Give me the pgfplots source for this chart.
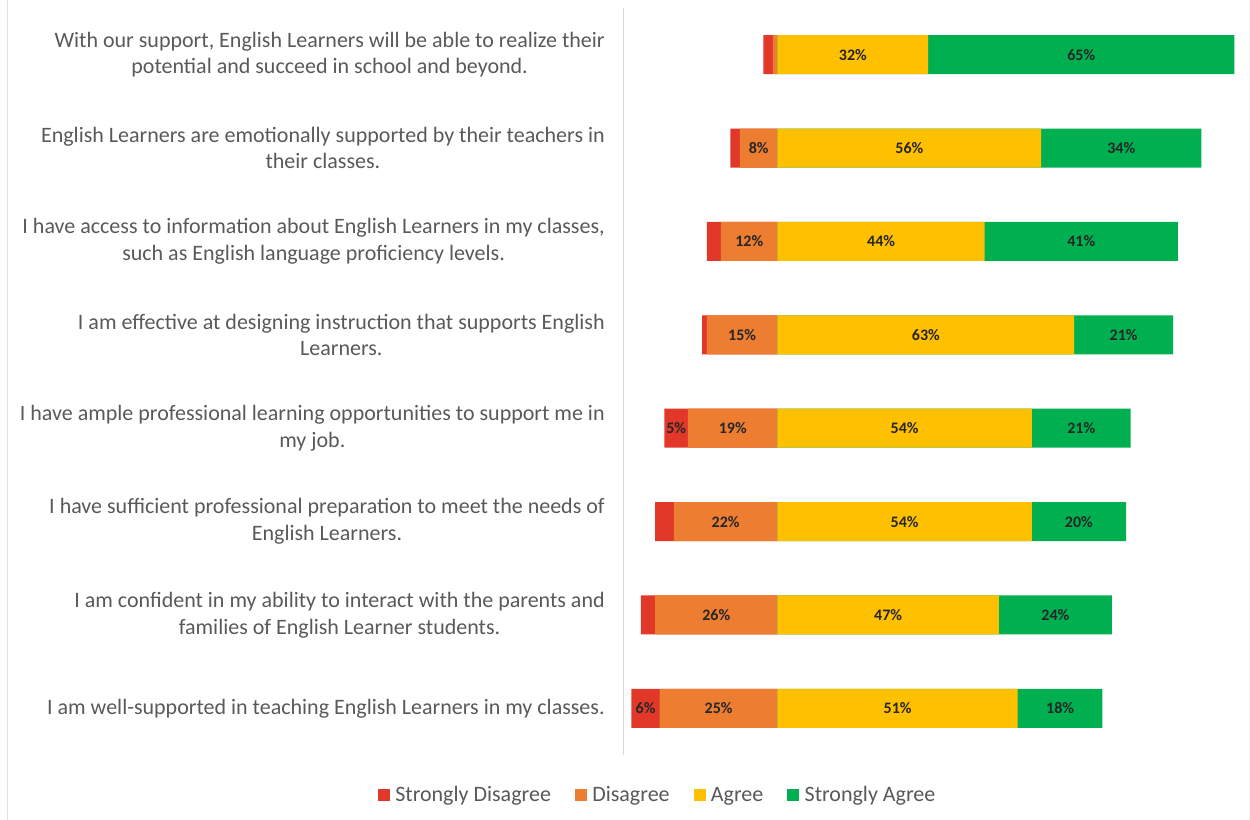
\documentclass[border=0pt]{standalone}
\usepackage{fontspec}
\setmainfont{Carlito}
\usepackage{pgfplots}
\usepackage{pgfplotstable}
\pgfplotsset{compat=1.18}

\definecolor{sdred}{HTML}{E2382A}
\definecolor{dorange}{HTML}{ED7D31}
\definecolor{ayellow}{HTML}{FFC000}
\definecolor{sagreen}{HTML}{00B050}
\definecolor{labelgray}{HTML}{595959}
\definecolor{valtext}{HTML}{262626}

% survey results, percent
\pgfplotstableread{
idx SD D A SA
0 2 1 32 65
1 2 8 56 34
2 3 12 44 41
3 1 15 63 21
4 5 19 54 21
5 4 22 54 20
6 3 26 47 24
7 6 25 51 18
}\survey

\begin{document}
\begin{tikzpicture}
\path[use as bounding box] (0,0) rectangle (937.5pt,615pt);
\draw[black!12] (5.25pt,0) -- (5.25pt,615pt);
\draw[black!6] (936.75pt,0) -- (936.75pt,615pt);
\begin{axis}[
    at={(467.25pt,48.75pt)}, anchor=south west,
    scale only axis,
    width=462.75pt, height=560.25pt,
    xmin=-32.8, xmax=98.2,
    ymin=-0.5, ymax=7.5,
    y dir=reverse,
    axis x line=none,
    axis y line*=left,
    y axis line style={draw=black!15},
    ytick={0,...,7},
    major tick length=0pt,
    yticklabels={
        {With our support, English Learners will be able to realize their\\potential and succeed in school and beyond.},
        {English Learners are emotionally supported by their teachers in\\their classes.},
        {I have access to information about English Learners in my classes,\\such as English language proficiency levels.},
        {I am effective at designing instruction that supports English\\Learners.},
        {I have ample professional learning opportunities to support me in\\my job.},
        {I have sufficient professional preparation to meet the needs of\\English Learners.},
        {I am confident in my ability to interact with the parents and\\families of English Learner students.},
        {I am well-supported in teaching English Learners in my classes.}
    },
    yticklabel style={align=center, inner sep=0pt, xshift=-13.5pt,
        text=labelgray, font=\fontsize{16.5}{20}\selectfont},
    xbar, bar width=29.25pt, bar shift=0pt,
    clip=false,
    /pgf/number format/assume math mode=true,
    nodes near coords={\pgfmathprintnumber[fixed,precision=0]{\pgfplotspointmeta}\%},
    every node near coord/.append style={anchor=center, text=valtext,
        font=\fontsize{12}{14}\selectfont\bfseries},
    legend style={at={(0.0567,-0.0535)}, anchor=center, draw=none,
        legend columns=4, font=\fontsize{16.5}{18}\selectfont,
        text=labelgray,
        /tikz/every even column/.append style={column sep=16pt},
        /tikz/every odd column/.append style={column sep=2pt}},
    legend image code/.code={\fill (0pt,-4.5pt) rectangle (9pt,4.5pt);},
]
% bars: longer segment drawn first, inner segment painted over it
\addplot[fill=sdred, draw=none, forget plot, nodes near coords={}]
    table[x expr=-\thisrow{SD}-\thisrow{D}, y=idx] {\survey};
\addplot[fill=dorange, draw=none, forget plot, nodes near coords={}]
    table[x expr=-\thisrow{D}, y=idx] {\survey};
\addplot[fill=sagreen, draw=none, forget plot, nodes near coords={}]
    table[x expr=\thisrow{A}+\thisrow{SA}, y=idx] {\survey};
\addplot[fill=ayellow, draw=none, forget plot, nodes near coords={}]
    table[x=A, y=idx] {\survey};

% value labels at the middle of each segment
\addplot[only marks, mark=none, forget plot, point meta=explicit,
    restrict expr to domain={\thisrow{SD}}{4.5:100}]
    table[x expr=-\thisrow{D}-\thisrow{SD}/2, y=idx, meta=SD] {\survey};
\addplot[only marks, mark=none, forget plot, point meta=explicit,
    restrict expr to domain={\thisrow{D}}{4.5:100}]
    table[x expr=-\thisrow{D}/2, y=idx, meta=D] {\survey};
\addplot[only marks, mark=none, forget plot, point meta=explicit]
    table[x expr=\thisrow{A}/2, y=idx, meta=A] {\survey};
\addplot[only marks, mark=none, forget plot, point meta=explicit]
    table[x expr=\thisrow{A}+\thisrow{SA}/2, y=idx, meta=SA] {\survey};

\addlegendimage{fill=sdred, draw=none}
\addlegendentry{Strongly Disagree}
\addlegendimage{fill=dorange, draw=none}
\addlegendentry{Disagree}
\addlegendimage{fill=ayellow, draw=none}
\addlegendentry{Agree}
\addlegendimage{fill=sagreen, draw=none}
\addlegendentry{Strongly Agree}
\end{axis}
\end{tikzpicture}
\end{document}
